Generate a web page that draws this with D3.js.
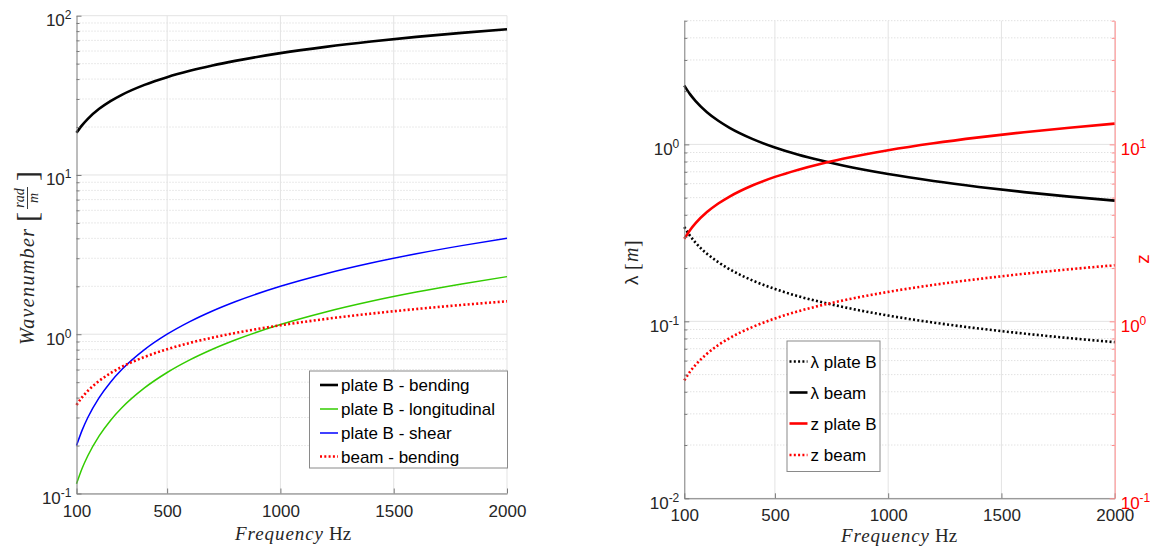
<!DOCTYPE html>
<html>
<head>
<meta charset="utf-8">
<script src="https://cdn.jsdelivr.net/npm/d3@7"></script>
<style>
body{margin:0;background:#fff;}
text{font-family:"Liberation Sans",Arial,sans-serif;}
</style>
</head>
<body>
<div class="fig"></div>
<script>
var freq=[100,125,150,200,250,300,400,500,600,700,800,1000,1200,1400,1600,1800,2000];

// left panel: wavenumbers [rad/m]
var plateBending=[18.4,20.57,22.53,26.02,29.09,31.87,36.8,41.14,45.07,48.68,52.04,58.19,63.74,68.85,73.6,78.06,82.29];
var plateLong=[0.115,0.144,0.1725,0.23,0.2875,0.345,0.46,0.575,0.69,0.805,0.92,1.15,1.38,1.61,1.84,2.07,2.3];
var plateShear=[0.2,0.25,0.3,0.4,0.5,0.6,0.8,1.0,1.2,1.4,1.6,2.0,2.4,2.8,3.2,3.6,4.0];
var beamBending=[0.36,0.4025,0.441,0.509,0.569,0.624,0.72,0.805,0.882,0.952,1.018,1.138,1.247,1.347,1.44,1.527,1.61];

// right panel: wavelengths [m] (left axis) and z (right axis)
var lambdaPlate=[0.341,0.305,0.278,0.241,0.216,0.197,0.1705,0.1525,0.139,0.129,0.1206,0.1078,0.0984,0.0911,0.0853,0.0804,0.0763];
var lambdaBeam=[2.15,1.923,1.756,1.52,1.36,1.241,1.075,0.961,0.878,0.813,0.76,0.68,0.621,0.575,0.5375,0.507,0.481];
var zPlate=[2.93,3.276,3.588,4.144,4.633,5.075,5.86,6.552,7.177,7.752,8.287,9.266,10.15,10.96,11.72,12.43,13.1];
var zBeam=[0.464,0.519,0.568,0.656,0.734,0.804,0.928,1.038,1.137,1.228,1.312,1.467,1.607,1.736,1.856,1.969,2.075];

var xTicks=[100,500,1000,1500,2000];
var leftYTicks=[0.1,1,10,100];
var lamTicks=[0.01,0.1,1];
var zTicks=[0.1,1,10];
var minorMult=[2,3,4,5,6,7,8,9];

var leftNames=["plate B - bending","plate B - longitudinal","plate B - shear","beam - bending"];
var rightNames=["\u03bb plate B","\u03bb beam","z plate B","z beam"];

var svg=d3.select(".fig").append("svg")
  .attr("width",1156)
  .attr("height",548);

var gridCol="#e3e3e3", minorCol="#d4d4d4", axisCol="#7a7a7a", txtCol="#262626";

function minorVals(dom){
  var out=[];
  for(var d=Math.floor(Math.log10(dom[0]));d<Math.log10(dom[1]);d++){
    minorMult.forEach(function(k){
      var v=k*Math.pow(10,d);
      if(v>dom[0] && v<=dom[1]*1.0001) out.push(v);
    });
  }
  return out;
}

function grid(x,y,ticksY){
  var g=svg.append("g");
  var xr=x.range(), yr=y.range();
  g.selectAll(".mn").data(minorVals(y.domain())).enter().append("line")
    .attr("x1",xr[0]).attr("x2",xr[1])
    .attr("y1",function(d){return y(d)}).attr("y2",function(d){return y(d)})
    .attr("stroke",minorCol).attr("stroke-dasharray","1,2").attr("stroke-width",1);
  g.selectAll(".mj").data(ticksY).enter().append("line")
    .attr("x1",xr[0]).attr("x2",xr[1])
    .attr("y1",function(d){return y(d)}).attr("y2",function(d){return y(d)})
    .attr("stroke",gridCol);
  g.selectAll(".vx").data(xTicks.slice(1)).enter().append("line")
    .attr("x1",function(d){return x(d)}).attr("x2",function(d){return x(d)})
    .attr("y1",yr[0]).attr("y2",yr[1])
    .attr("stroke",gridCol);
}

function expLabels(g,dy){
  g.selectAll(".tick text").each(function(d){
    var t=d3.select(this).attr("dy",dy);
    t.append("tspan").text("10");
    t.append("tspan").attr("dy",-7).style("font-size","12px").text(Math.round(Math.log10(d)));
  });
}

function xAxis(x,y0){
  var g=svg.append("g")
    .attr("transform","translate(0,"+y0+")")
    .call(d3.axisBottom(x).tickValues(xTicks).tickFormat(d3.format("d"))
      .tickSize(-5).tickSizeOuter(0).tickPadding(11));
  g.select(".domain").attr("stroke",axisCol);
  g.selectAll(".tick line").attr("stroke",axisCol);
  g.selectAll("text").style("font-size","17px").attr("fill",txtCol);
}

function yAxis(y,x0,ticks,side,col,lineCol){
  var ax= side=="left" ? d3.axisLeft : d3.axisRight;
  var gm=svg.append("g").attr("transform","translate("+x0+",0)")
    .call(ax(y).tickValues(minorVals(y.domain())).tickSize(-3).tickSizeOuter(0).tickFormat(""));
  gm.select(".domain").remove();
  gm.selectAll(".tick line").attr("stroke",lineCol);
  var g=svg.append("g").attr("transform","translate("+x0+",0)")
    .call(ax(y).tickValues(ticks).tickSize(-5).tickSizeOuter(0).tickPadding(side=="left"?5:6).tickFormat(""));
  g.select(".domain").attr("stroke",lineCol);
  g.selectAll(".tick line").attr("stroke",lineCol);
  g.selectAll(".tick text").style("font-size","17px").attr("fill",col);
  expLabels(g,"0.58em");
}

function curve(x,y,vals,col,w,dash){
  var line=d3.line()
    .x(function(d){return x(d[0])})
    .y(function(d){return y(d[1])})
    .curve(d3.curveMonotoneX);
  svg.append("path")
    .datum(d3.zip(freq,vals))
    .attr("d",line)
    .attr("fill","none")
    .attr("stroke",col)
    .attr("stroke-width",w)
    .attr("stroke-dasharray",dash||null);
}

function legend(box,names,styles,rowY,x0){
  svg.append("rect")
    .attr("x",box[0]).attr("y",box[1]).attr("width",box[2]).attr("height",box[3])
    .attr("fill","#fff").attr("stroke","#8a8a8a").attr("stroke-width",1);
  names.forEach(function(n,i){
    var s=styles[i];
    svg.append("line")
      .attr("x1",x0).attr("x2",x0+18).attr("y1",rowY[i]).attr("y2",rowY[i])
      .attr("stroke",s[0]).attr("stroke-width",s[1]).attr("stroke-dasharray",s[2]||null);
    svg.append("text")
      .attr("x",x0+21).attr("y",rowY[i]+6)
      .style("font-size","17px").attr("fill","#000")
      .text(n);
  });
}

// ---------------- left panel
var x1=d3.scaleLinear().domain([100,2000]).range([76.5,507]);
var y1=d3.scaleLog().domain([0.1,100]).range([493.5,15.7]);

grid(x1,y1,leftYTicks);
var leftStyles=[["#000",2.6],["#33cc00",1.5],["#0000ff",1.5],["#ff0000",2.6,"2,2.3"]];
[plateBending,plateLong,plateShear,beamBending].forEach(function(v,i){
  curve(x1,y1,v,leftStyles[i][0],leftStyles[i][1],leftStyles[i][2]);
});
xAxis(x1,493.5);
yAxis(y1,76.5,leftYTicks,"left",txtCol,axisCol);
legend([309.5,371,198,97],leftNames,leftStyles,[385,409,433,456.5],320);

// y label: Wavenumber [rad/m]
var serif="'Liberation Serif',serif";
var yl=svg.append("g").attr("transform","translate(34,252)rotate(-90)");
yl.append("text").attr("x",-93).attr("y",0)
  .style("font-family",serif).style("font-style","italic").style("font-size","20px")
  .attr("textLength",116).attr("fill",txtCol).text("Wavenumber");
yl.append("text").attr("x",30).attr("y",3)
  .style("font-family",serif).style("font-size","30px").attr("fill",txtCol).text("[");
yl.append("text").attr("x",54).attr("y",-10)
  .style("font-family",serif).style("font-style","italic").style("font-size","14px")
  .attr("text-anchor","middle").attr("fill",txtCol).text("rad");
yl.append("line").attr("x1",43).attr("x2",65).attr("y1",-6.5).attr("y2",-6.5).attr("stroke",txtCol).attr("stroke-width",0.9);
yl.append("text").attr("x",54).attr("y",4)
  .style("font-family",serif).style("font-style","italic").style("font-size","14px")
  .attr("text-anchor","middle").attr("fill",txtCol).text("m");
yl.append("text").attr("x",71).attr("y",3)
  .style("font-family",serif).style("font-size","30px").attr("fill",txtCol).text("]");

function freqLabel(x0,y0){
  svg.append("text").attr("x",x0).attr("y",y0)
    .style("font-family",serif).style("font-style","italic").style("font-size","19px")
    .attr("textLength",88).attr("fill",txtCol).text("Frequency");
  svg.append("text").attr("x",x0+94).attr("y",y0)
    .style("font-family",serif).style("font-size","19px")
    .attr("fill",txtCol).text("Hz");
}
freqLabel(235,540);

// ---------------- right panel
var x2=d3.scaleLinear().domain([100,2000]).range([684.3,1114.7]);
var y2=d3.scaleLog().domain([0.01,5]).range([498.3,20.7]);
var y2r=d3.scaleLog().domain([0.1,50]).range([498.3,20.7]);

grid(x2,y2,lamTicks);
var rightStyles=[["#000",2.6,"2,2.3"],["#000",2.6],["#ff0000",2.6],["#ff0000",2.6,"2,2.3"]];
curve(x2,y2,lambdaPlate,"#000",2.6,"2,2.3");
curve(x2,y2,lambdaBeam,"#000",2.6);
curve(x2,y2r,zPlate,"#ff0000",2.6);
curve(x2,y2r,zBeam,"#ff0000",2.6,"2,2.3");
xAxis(x2,498.3);
yAxis(y2,684.3,lamTicks,"left",txtCol,axisCol);
yAxis(y2r,1114.7,zTicks,"right","#ff0000","#ff8c8c");
legend([787,341,93,130.5],rightNames,rightStyles,[361.5,392.5,423.5,455],789.5);

freqLabel(841,542);

var ll=svg.append("g").attr("transform","translate(638,262)rotate(-90)");
ll.append("text").attr("x",-23).attr("y",0).style("font-size","19px").attr("fill",txtCol).text("\u03bb");
ll.append("text").attr("x",-8).attr("y",1)
  .style("font-family",serif).style("font-size","20px").attr("fill",txtCol).text("[");
ll.append("text").attr("x",0).attr("y",0)
  .style("font-family",serif).style("font-style","italic").style("font-size","20px").attr("fill",txtCol).text("m");
ll.append("text").attr("x",15).attr("y",1)
  .style("font-family",serif).style("font-size","20px").attr("fill",txtCol).text("]");

svg.append("text")
  .attr("transform","translate(1149,259)rotate(-90)")
  .attr("text-anchor","middle")
  .style("font-size","19px").attr("fill","#ff0000").text("z");
</script>
</body>
</html>
